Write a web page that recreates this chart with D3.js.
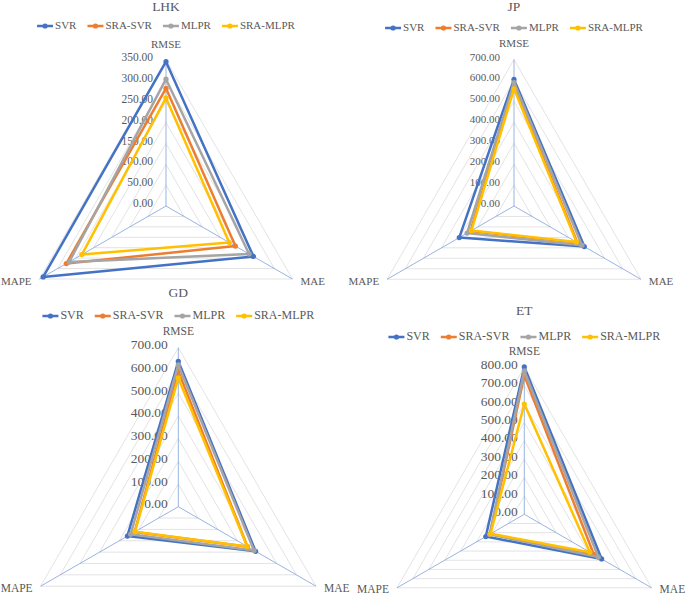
<!DOCTYPE html>
<html>
<head>
<meta charset="utf-8">
<script src="https://cdn.jsdelivr.net/npm/d3@7"></script>
<style>
  html, body { margin: 0; padding: 0; background: #fff; }
  svg { display: block; }
</style>
</head>
<body>
<svg id="chart" width="685" height="595"></svg>
<script>
"use strict";

// axes of every radar, clockwise from the top
const metrics = ["RMSE", "MAE", "MAPE"];
const seriesNames = ["SVR", "SRA-SVR", "MLPR", "SRA-MLPR"];
const seriesColors = ["#4472C4", "#ED7D31", "#A5A5A5", "#FFC000"];

// values per series, in metric order [RMSE, MAE, MAPE]
const lhkSVR = [346, 242, 340];
const lhkSRASVR = [282, 192, 276];
const lhkMLPR = [304, 230, 268];
const lhkSRAMLPR = [259, 175, 233];
const lhkTicks = [0, 50, 100, 150, 200, 250, 300, 350];

const jpSVR = [605, 388, 302];
const jpSRASVR = [575, 350, 240];
const jpMLPR = [590, 375, 259];
const jpSRAMLPR = [560, 345, 235];
const jpTicks = [0, 100, 200, 300, 400, 500, 600, 700];

const gdSVR = [640, 393, 259];
const gdSRASVR = [597, 352, 222];
const gdMLPR = [625, 385, 242];
const gdSRAMLPR = [567, 350, 220];
const gdTicks = [0, 100, 200, 300, 400, 500, 600, 700];

const etSVR = [802, 486, 242];
const etSRASVR = [755, 437, 215];
const etMLPR = [780, 465, 218];
const etSRAMLPR = [600, 412, 212];
const etTicks = [0, 100, 200, 300, 400, 500, 600, 700, 800];

// layout of the four charts
const panels = [
  {title: "LHK", series: [lhkSVR, lhkSRASVR, lhkMLPR, lhkSRAMLPR], ticks: lhkTicks,
   cx: 166, cy: 206, r: 146, titleY: 8, legendY: 26, legendFont: 11, tickFont: 11.5, tickDx: 13, catFont: 11},
  {title: "JP", series: [jpSVR, jpSRASVR, jpMLPR, jpSRAMLPR], ticks: jpTicks,
   cx: 514, cy: 206, r: 146.5, titleY: 8, legendY: 28, legendFont: 11, tickFont: 11, tickDx: 14, catFont: 11},
  {title: "GD", series: [gdSVR, gdSRASVR, gdMLPR, gdSRAMLPR], ticks: gdTicks,
   cx: 178.3, cy: 506.7, r: 159, titleY: 294, legendY: 316, legendFont: 12, tickFont: 13.5, tickDx: 10.5, catFont: 11.5},
  {title: "ET", series: [etSVR, etSRASVR, etMLPR, etSRAMLPR], ticks: etTicks,
   cx: 524.3, cy: 514.3, r: 147, titleY: 312, legendY: 337, legendFont: 12, tickFont: 13.5, tickDx: 6.5, catFont: 11.5}
];

const font = "'Liberation Serif', 'Times New Roman', serif";
const textColor = "#595959";
const angles = [-90, 30, 150].map(a => a * Math.PI / 180);

const svg = d3.select("#chart");

panels.forEach(function(p) {
  let g = svg.append("g").attr("transform", "translate(" + p.cx + "," + p.cy + ")");
  let rScale = d3.scaleLinear()
    .domain([0, d3.max(p.ticks)])
    .range([0, p.r]);

  let pt = (v, i) => [rScale(v) * Math.cos(angles[i]), rScale(v) * Math.sin(angles[i])];
  let line = d3.line();

  // grid triangles
  g.selectAll("path.grid")
    .data(p.ticks.slice(1))
    .enter().append("path")
    .attr("class", "grid")
    .attr("d", t => line(metrics.map((m, i) => pt(t, i))) + "Z")
    .attr("fill", "none")
    .attr("stroke", "#D9D9D9")
    .attr("stroke-width", 0.75);

  // spokes
  g.selectAll("line.spoke")
    .data(metrics)
    .enter().append("line")
    .attr("class", "spoke")
    .attr("x1", 0).attr("y1", 0)
    .attr("x2", (m, i) => pt(d3.max(p.ticks), i)[0])
    .attr("y2", (m, i) => pt(d3.max(p.ticks), i)[1])
    .attr("stroke", "#8FAADC")
    .attr("stroke-width", 0.9);

  // tick labels along the RMSE spoke
  g.selectAll("text.tick")
    .data(p.ticks)
    .enter().append("text")
    .attr("class", "tick")
    .attr("x", -p.tickDx)
    .attr("y", t => -rScale(t) - 1.5)
    .attr("text-anchor", "end")
    .attr("dominant-baseline", "middle")
    .attr("font-family", font)
    .attr("font-size", p.tickFont)
    .attr("fill", textColor)
    .text(t => t.toFixed(2));

  // series
  p.series.forEach(function(vals, s) {
    let pts = vals.map((v, i) => pt(v, i));
    g.append("path")
      .attr("d", line(pts) + "Z")
      .attr("fill", "none")
      .attr("stroke", seriesColors[s])
      .attr("stroke-width", 2.5)
      .attr("stroke-linejoin", "round");
    g.selectAll(null)
      .data(pts)
      .enter().append("circle")
      .attr("cx", d => d[0])
      .attr("cy", d => d[1])
      .attr("r", 2.6)
      .attr("fill", seriesColors[s]);
  });

  // category labels
  let rOut = p.r;
  g.append("text")
    .attr("x", 0).attr("y", -rOut - 15)
    .attr("text-anchor", "middle").attr("dominant-baseline", "middle")
    .attr("font-family", font).attr("font-size", p.catFont).attr("fill", textColor)
    .text(metrics[0]);
  g.append("text")
    .attr("x", pt(d3.max(p.ticks), 1)[0] + 8).attr("y", pt(d3.max(p.ticks), 1)[1] + 3)
    .attr("text-anchor", "start").attr("dominant-baseline", "middle")
    .attr("font-family", font).attr("font-size", p.catFont).attr("fill", textColor)
    .text(metrics[1]);
  g.append("text")
    .attr("x", pt(d3.max(p.ticks), 2)[0] - 8).attr("y", pt(d3.max(p.ticks), 2)[1] + 3)
    .attr("text-anchor", "end").attr("dominant-baseline", "middle")
    .attr("font-family", font).attr("font-size", p.catFont).attr("fill", textColor)
    .text(metrics[2]);

  // title
  svg.append("text")
    .attr("x", p.cx).attr("y", p.titleY)
    .attr("text-anchor", "middle").attr("dominant-baseline", "middle")
    .attr("font-family", font).attr("font-size", 13.5).attr("fill", textColor)
    .text(p.title);

  // legend, centred on the chart
  let lg = svg.append("g");
  let x = 0;
  seriesNames.forEach(function(name, s) {
    let item = lg.append("g").attr("transform", "translate(" + x + ",0)");
    item.append("line")
      .attr("x1", 0).attr("x2", 16).attr("y1", 0).attr("y2", 0)
      .attr("stroke", seriesColors[s]).attr("stroke-width", 2.5);
    item.append("circle")
      .attr("cx", 8).attr("cy", 0).attr("r", 2.6)
      .attr("fill", seriesColors[s]);
    let t = item.append("text")
      .attr("x", 18).attr("y", 0)
      .attr("dominant-baseline", "middle")
      .attr("font-family", font).attr("font-size", p.legendFont).attr("fill", textColor)
      .text(name);
    x += 18 + t.node().getComputedTextLength() + 11;
  });
  let total = x - 11;
  lg.attr("transform", "translate(" + (p.cx - total / 2) + "," + p.legendY + ")");
});
</script>
</body>
</html>
